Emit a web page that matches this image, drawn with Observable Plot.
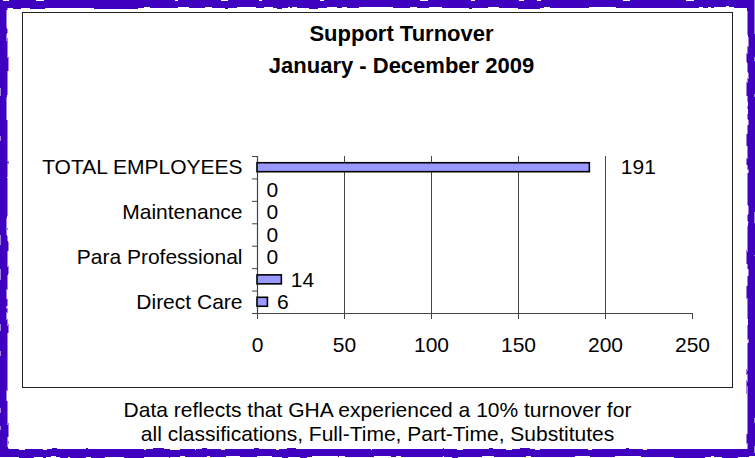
<!DOCTYPE html>
<html>
<head>
<meta charset="utf-8">
<script src="https://cdn.jsdelivr.net/npm/d3@7"></script>
<script src="https://cdn.jsdelivr.net/npm/@observablehq/plot@0.6"></script>
<style>
  html, body { margin: 0; padding: 0; background: #fff; }
  #wrap { position: relative; width: 755px; height: 458px; overflow: hidden; background: #fff; font-family: "Liberation Sans", Arial, sans-serif; }
  #frame { position: absolute; left: 0; top: 0; }
  #box { position: absolute; left: 22px; top: 12px; width: 709px; height: 374px; border: 1.5px solid #222; box-sizing: content-box; }
  #title { position: absolute; left: 0; width: 803px; top: 18px; text-align: center; font-weight: bold; font-size: 22px; line-height: 32px; color: #000; }
  #chart { position: absolute; left: 0; top: 0; }
  #caption { position: absolute; left: 0; width: 755px; top: 398px; text-align: center; font-size: 21px; line-height: 24px; color: #000; }
</style>
</head>
<body>
<div id="wrap">
  <svg id="frame" width="755" height="458">
    <defs>
      <filter id="wavy" x="-5%" y="-5%" width="110%" height="110%">
        <feTurbulence type="fractalNoise" baseFrequency="0.06" numOctaves="2" seed="3" result="n"/>
        <feDisplacementMap in="SourceGraphic" in2="n" scale="4" xChannelSelector="R" yChannelSelector="G"/>
      </filter>
    </defs>
    <rect x="3.5" y="4" width="748" height="449" fill="none" stroke="#4000c0" stroke-width="8" filter="url(#wavy)"/>
  </svg>
  <div id="box"></div>
  <div id="title">Support Turnover<br>January - December 2009</div>
  <div id="chart"></div>
  <div id="caption">Data reflects that GHA experienced a 10% turnover for<br>all classifications, Full-Time, Part-Time, Substitutes</div>
</div>
<script>
// Categories from bottom to top; blank entries are unlabeled rows in the original
const categories = ["Direct Care", "", "Para Professional", "", "Maintenance", "", "TOTAL EMPLOYEES"];
const values = [6, 14, 0, 0, 0, 0, 191];
const xTicks = [0, 50, 100, 150, 200, 250];
const gridTicks = [50, 100, 150, 200];

const rows = categories.map((c, i) => ({i, label: c, value: values[i]}));
const barHalf = 0.2;
const font = "Liberation Sans, Arial, sans-serif";

const plot = Plot.plot({
  width: 755,
  height: 360,
  marginLeft: 257,
  marginRight: 63,
  marginTop: 156,
  marginBottom: 47,
  style: {fontFamily: font, fontSize: "21px", background: "transparent", color: "#000"},
  x: {domain: [0, 250], axis: null},
  y: {domain: [0, 7], axis: null},
  marks: [
    Plot.gridX(gridTicks, {stroke: "#444", strokeOpacity: 1, strokeWidth: 1}),
    Plot.axisX({ticks: xTicks, tickSize: 6, tickPadding: 18, tickFormat: d => String(d), stroke: "#444", fontSize: 21, anchor: "bottom", label: null}),
    Plot.axisY({ticks: d3.range(8), tickSize: 5, tickFormat: () => "", stroke: "#444", anchor: "left", label: null}),
    Plot.ruleY([0], {stroke: "#444", strokeWidth: 1.2}),
    Plot.ruleX([0], {stroke: "#444", strokeWidth: 1.2}),
    Plot.rectX(rows.filter(d => d.value > 0), {x1: 0, x2: "value", y1: d => d.i + 0.5 - barHalf, y2: d => d.i + 0.5 + barHalf, fill: "#9999ff", stroke: "#000", strokeWidth: 1.6}),
    Plot.text(rows.filter(d => d.label), {x: 0, y: d => d.i + 0.5, text: "label", textAnchor: "end", dx: -15, fontSize: 21, fill: "#000"}),
    Plot.text(rows.filter(d => d.value < 100), {x: "value", y: d => d.i + 0.5, text: d => String(d.value), textAnchor: "start", dx: 9, fontSize: 21, fill: "#000"}),
    Plot.text(rows.filter(d => d.value >= 100), {x: "value", y: d => d.i + 0.5, text: d => String(d.value), textAnchor: "start", dx: 31, fontSize: 21, fill: "#000"})
  ]
});
document.getElementById("chart").appendChild(plot);
</script>
</body>
</html>
